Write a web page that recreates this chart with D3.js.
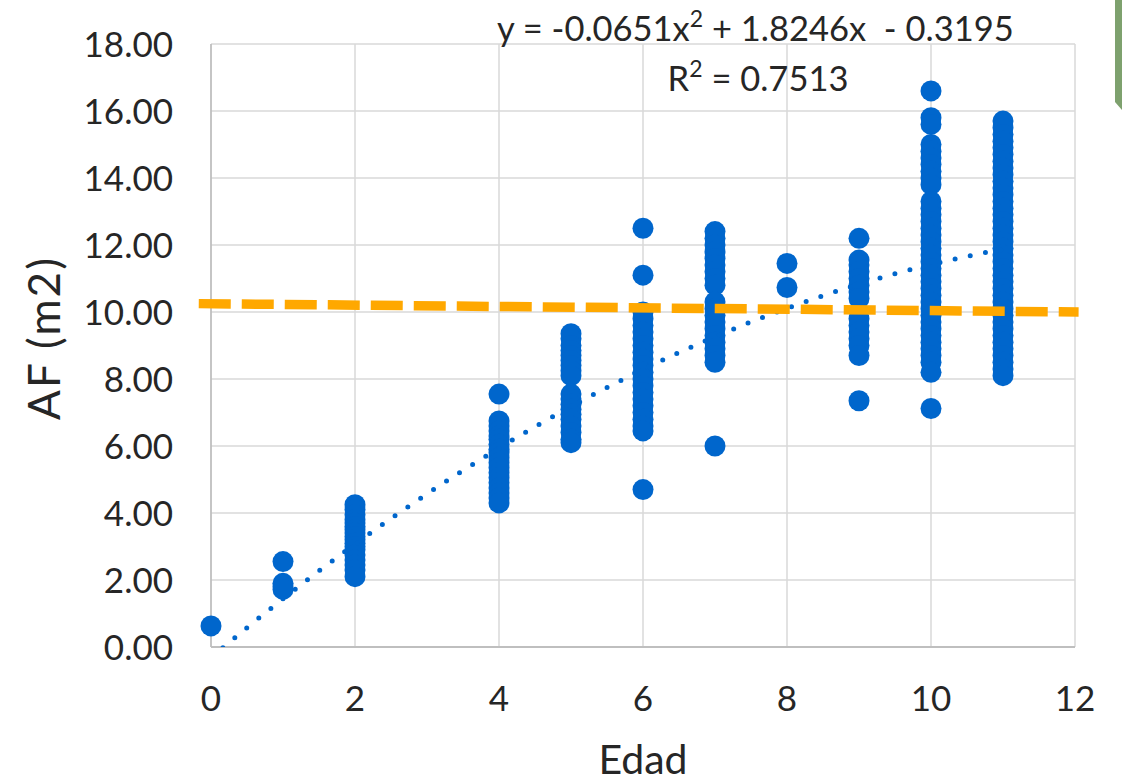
<!DOCTYPE html>
<html>
<head>
<meta charset="utf-8">
<script src="https://cdn.jsdelivr.net/npm/d3@7"></script>
<style>
  body { margin: 0; background: #fff; }
  svg { display: block; font-family: Lato, "Open Sans", sans-serif; }
</style>
</head>
<body>
<div id="chart"></div>
<script>
// puntos AF por edad
const edad0 = [0.63];
const edad1 = [2.55, 1.9, 1.8, 1.72];
const edad2 = [4.25, 4.1, 3.95, 3.8, 3.7, 3.6, 3.5, 3.4, 3.3, 3.2, 3.1, 3.0, 2.9, 2.75, 2.6, 2.45, 2.3, 2.1];
const edad4 = [7.55, 6.75, 6.6, 6.45, 6.3, 6.2, 6.05, 5.9, 5.8, 5.65, 5.5, 5.35, 5.2, 5.05, 4.9, 4.75, 4.6, 4.45, 4.3];
const edad5 = [9.35, 9.2, 9.0, 8.85, 8.7, 8.55, 8.4, 8.25, 8.1, 7.55, 7.4, 7.25, 7.1, 6.95, 6.8, 6.6, 6.4, 6.2, 6.1];
const edad6 = [12.5, 11.1, 10.0, 9.8, 9.6, 9.4, 9.2, 9.0, 8.8, 8.6, 8.4, 8.2, 8.0, 7.8, 7.6, 7.4, 7.2, 7.0, 6.8, 6.6, 6.45, 4.7];
const edad7 = [12.4, 12.2, 12.0, 11.8, 11.6, 11.4, 11.2, 11.0, 10.8, 10.3, 10.1, 9.9, 9.7, 9.5, 9.3, 9.1, 8.9, 8.7, 8.5, 6.0];
const edad8 = [11.45, 10.73];
const edad9 = [12.2, 11.55, 11.4, 11.2, 11.0, 10.8, 10.6, 10.4, 9.8, 9.6, 9.4, 9.2, 9.0, 8.7, 7.35];
const edad10 = [16.6, 15.8, 15.6, 15.0, 14.8, 14.6, 14.4, 14.2, 14.0, 13.8, 13.3, 13.1, 12.9, 12.7, 12.5, 12.3,
  12.1, 11.9, 11.7, 11.5, 11.3, 11.1, 10.9, 10.7, 10.5, 10.3, 10.1, 9.9, 9.7, 9.5, 9.3, 9.1, 8.9, 8.7, 8.5, 8.2, 7.12];
const edad11 = [15.7, 15.5, 15.3, 15.1, 14.9, 14.7, 14.5, 14.3, 14.1, 13.9, 13.7, 13.5, 13.3, 13.1, 12.9, 12.7,
  12.5, 12.3, 12.1, 11.9, 11.7, 11.5, 11.3, 11.1, 10.9, 10.7, 10.5, 10.3, 10.1, 9.9, 9.7, 9.5, 9.3, 9.1, 8.9,
  8.7, 8.5, 8.3, 8.1];

const edades = [0, 1, 2, 4, 5, 6, 7, 8, 9, 10, 11];
const columnas = [edad0, edad1, edad2, edad4, edad5, edad6, edad7, edad8, edad9, edad10, edad11];

// tendencia polinómica
const coef = [-0.0651, 1.8246, -0.3195];
const trendX = [0, 0.5, 1, 1.5, 2, 2.5, 3, 3.5, 4, 4.5, 5, 5.5, 6, 6.5, 7, 7.5, 8, 8.5, 9, 9.5, 10, 10.5, 11];

// línea naranja discontinua (extremos)
const umbral = [[-0.17, 10.25], [12.05, 10.0]];

const xTicks = [0, 2, 4, 6, 8, 10, 12];
const yTicks = [0, 2, 4, 6, 8, 10, 12, 14, 16, 18];

const width = 1122, height = 784;
const margin = { left: 211, right: 1075, top: 44, bottom: 647 };

const svg = d3.select('#chart').append('svg')
  .attr('width', width)
  .attr('height', height);

svg.append('rect').attr('width', width).attr('height', height).attr('fill', '#fff');

const x = d3.scaleLinear().domain([0, 12]).range([margin.left, margin.right]);
const y = d3.scaleLinear().domain([0, 18]).range([margin.bottom, margin.top]);

// rejilla
svg.append('g')
  .selectAll('line')
  .data(yTicks.slice(1))
  .join('line')
  .attr('x1', margin.left).attr('x2', margin.right)
  .attr('y1', d => y(d)).attr('y2', d => y(d))
  .attr('stroke', '#d9d9d9').attr('stroke-width', 1.5);

svg.append('g')
  .selectAll('line')
  .data(xTicks.slice(1))
  .join('line')
  .attr('x1', d => x(d)).attr('x2', d => x(d))
  .attr('y1', margin.top).attr('y2', margin.bottom)
  .attr('stroke', '#d9d9d9').attr('stroke-width', 1.5);

// ejes
svg.append('line').attr('x1', margin.left).attr('x2', margin.left).attr('y1', margin.top).attr('y2', margin.bottom)
  .attr('stroke', '#bfbfbf').attr('stroke-width', 1.8);
svg.append('line').attr('x1', margin.left).attr('x2', margin.right).attr('y1', margin.bottom).attr('y2', margin.bottom)
  .attr('stroke', '#bfbfbf').attr('stroke-width', 1.8);

// etiquetas
svg.append('g')
  .selectAll('text')
  .data(yTicks)
  .join('text')
  .attr('x', 173)
  .attr('y', d => y(d) + 12.5)
  .attr('text-anchor', 'end')
  .attr('font-size', 35)
  .attr('fill', '#262626')
  .text(d => d3.format('.2f')(d));

svg.append('g')
  .selectAll('text')
  .data(xTicks)
  .join('text')
  .attr('x', d => x(d))
  .attr('y', 711)
  .attr('text-anchor', 'middle')
  .attr('font-size', 35)
  .attr('fill', '#262626')
  .text(d => d);

svg.append('text')
  .attr('transform', 'translate(60,338) rotate(-90)')
  .attr('text-anchor', 'middle')
  .attr('font-size', 44)
  .attr('letter-spacing', 2)
  .attr('fill', '#262626')
  .text('AF (m2)');

svg.append('text')
  .attr('x', (margin.left + margin.right) / 2)
  .attr('y', 774)
  .attr('text-anchor', 'middle')
  .attr('font-size', 41)
  .attr('fill', '#262626')
  .text('Edad');

// puntos
const puntos = [];
columnas.forEach((col, i) => col.forEach(v => puntos.push([edades[i], v])));

svg.append('g')
  .selectAll('circle')
  .data(puntos)
  .join('circle')
  .attr('cx', d => x(d[0]))
  .attr('cy', d => y(d[1]))
  .attr('r', 10.5)
  .attr('fill', '#0066cc');

// tendencia
svg.append('clipPath').attr('id', 'plot')
  .append('rect')
  .attr('x', margin.left).attr('y', margin.top)
  .attr('width', margin.right - margin.left).attr('height', margin.bottom - margin.top);

const trend = d3.line()
  .x(d => x(d))
  .y(d => y(coef[0] * d * d + coef[1] * d + coef[2]))
  .curve(d3.curveMonotoneX);

svg.append('path')
  .attr('clip-path', 'url(#plot)')
  .attr('d', trend(trendX))
  .attr('fill', 'none')
  .attr('stroke', '#0066cc')
  .attr('stroke-width', 5)
  .attr('stroke-linecap', 'round')
  .attr('stroke-dasharray', '0 15.5');

// umbral
svg.append('line')
  .attr('x1', x(umbral[0][0])).attr('y1', y(umbral[0][1]))
  .attr('x2', x(umbral[1][0])).attr('y2', y(umbral[1][1]))
  .attr('stroke', '#ffa800')
  .attr('stroke-width', 9.5)
  .attr('stroke-dasharray', '32 11');

// ecuación
const eq = svg.append('text')
  .attr('x', 497).attr('y', 41)
  .attr('font-size', 34.5)
  .attr('fill', '#262626')
  .style('white-space', 'pre');
eq.append('tspan').text('y = -0.0651x');
eq.append('tspan').attr('dy', -14).attr('font-size', 23).text('2');
eq.append('tspan').attr('dy', 14).text(' + 1.8246x  - 0.3195');

const r2 = svg.append('text')
  .attr('x', 758).attr('y', 91)
  .attr('text-anchor', 'middle')
  .attr('font-size', 34.5)
  .attr('fill', '#262626');
r2.append('tspan').text('R');
r2.append('tspan').attr('dy', -14).attr('font-size', 23).text('2');
r2.append('tspan').attr('dy', 14).text(' = 0.7513');

// borde verde arriba a la derecha
svg.append('path')
  .attr('d', 'M1115,0 L1122,0 L1122,110 L1115,102 Z')
  .attr('fill', '#7ea16e');
</script>
</body>
</html>
